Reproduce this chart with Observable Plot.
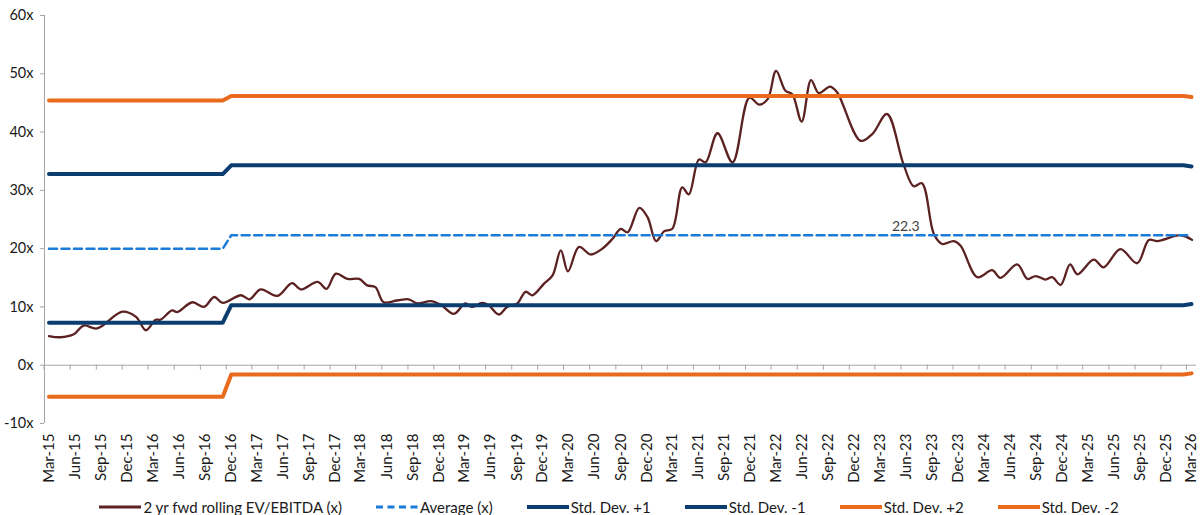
<!DOCTYPE html>
<html>
<head>
<meta charset="utf-8">
<script src="https://cdn.jsdelivr.net/npm/d3@7"></script>
<script src="https://cdn.jsdelivr.net/npm/@observablehq/plot@0.6"></script>
<style>
  body { margin: 0; background: #fff; font-family: Lato, "Open Sans", sans-serif; }
  #legend { display: flex; justify-content: center; align-items: center; height: 20px; margin-top: 5px; padding-left: 18px; font-size: 15px; color: #1a1a1a; }
  .item { display: flex; align-items: center; margin-right: 34px; }
  .item:last-child { margin-right: 0; }
  .item svg { margin-right: 2px; }
</style>
</head>
<body>
<div id="chart"></div>
<div id="legend"></div>
<script>
// ---- Data ----
const lineDates = [
  "2015-03-01","2015-04-10","2015-05-27","2015-07-01","2015-08-17","2015-11-14","2016-01-01","2016-02-05",
  "2016-03-10","2016-03-27","2016-05-07","2016-05-25","2016-07-17","2016-08-27","2016-10-02","2016-11-01",
  "2017-01-04","2017-02-03","2017-03-14","2017-05-12","2017-07-03","2017-08-02","2017-10-01","2017-11-01",
  "2017-12-04","2018-01-14","2018-02-24","2018-03-24","2018-04-22","2018-05-21","2018-07-07","2018-08-17",
  "2018-09-16","2018-11-02","2018-12-07","2019-01-23","2019-03-04","2019-03-27","2019-05-02","2019-05-25",
  "2019-06-30","2019-07-29","2019-09-03","2019-10-02","2019-10-26","2019-12-06","2020-01-05","2020-02-03",
  "2020-02-28","2020-04-07","2020-05-18","2020-06-28","2020-08-03","2020-09-01","2020-09-25","2020-11-05",
  "2020-12-04","2021-01-03","2021-02-01","2021-03-01","2021-04-05","2021-04-28","2021-06-03","2021-06-26",
  "2021-08-07","2021-09-29","2021-11-27","2022-01-01","2022-01-31","2022-03-01","2022-04-03","2022-04-27",
  "2022-05-30","2022-07-02","2022-07-29","2022-09-07","2022-10-02","2022-12-23","2023-02-03","2023-03-26",
  "2023-05-23","2023-06-28","2023-07-27","2023-09-07","2023-10-06","2023-11-16","2023-12-10","2024-02-07",
  "2024-03-30","2024-04-28","2024-06-26","2024-08-01","2024-08-30","2024-10-04","2024-10-27","2024-11-26",
  "2024-12-29","2025-01-24","2025-03-22","2025-04-26","2025-06-24","2025-08-22","2025-10-02","2025-11-01",
  "2026-01-22","2026-03-03"
];
const lineValues = [
  5.0,4.8,5.3,6.8,6.3,9.2,8.3,6.0,
  7.8,7.8,9.4,9.1,10.8,10.0,11.7,10.7,
  12.0,11.3,13.0,11.9,14.1,13.0,14.3,13.1,
  15.7,14.8,14.8,13.7,13.4,10.8,11.1,11.3,
  10.6,11.0,10.4,8.8,10.6,10.0,10.7,10.3,
  8.7,10.0,10.6,12.6,12.0,14.0,15.4,19.7,
  16.1,20.3,19.0,20.0,21.7,23.4,22.8,27.0,
  25.4,21.3,23.0,23.4,30.5,29.3,35.3,34.8,
  39.8,34.8,45.9,44.7,45.7,50.5,47.1,46.5,
  41.8,48.9,46.7,47.8,46.8,38.5,39.7,43.1,
  34.5,30.7,31.2,22.5,20.8,21.3,20.5,15.1,
  16.3,15.0,17.3,14.8,15.3,14.7,15.1,13.8,
  17.3,15.6,18.1,16.8,19.9,17.5,21.5,21.3,
  22.3,21.5
];

const bandDates     = ["2015-03-01","2016-11-01","2016-12-01","2026-02-01","2026-03-01"];
const averageValues = [20.0, 20.0, 22.3, 22.3, 22.3];
const plus1Values   = [32.8, 32.8, 34.3, 34.3, 34.1];
const minus1Values  = [7.3, 7.3, 10.3, 10.3, 10.5];
const plus2Values   = [45.4, 45.4, 46.2, 46.2, 46.0];
const minus2Values  = [-5.4, -5.4, -1.6, -1.6, -1.4];

const avgLabelDate = "2023-05-31";
const avgLabelValue = 22.3;

const xTickLabels = [
  "Mar-15","Jun-15","Sep-15","Dec-15","Mar-16","Jun-16","Sep-16","Dec-16",
  "Mar-17","Jun-17","Sep-17","Dec-17","Mar-18","Jun-18","Sep-18","Dec-18",
  "Mar-19","Jun-19","Sep-19","Dec-19","Mar-20","Jun-20","Sep-20","Dec-20",
  "Mar-21","Jun-21","Sep-21","Dec-21","Mar-22","Jun-22","Sep-22","Dec-22",
  "Mar-23","Jun-23","Sep-23","Dec-23","Mar-24","Jun-24","Sep-24","Dec-24",
  "Mar-25","Jun-25","Sep-25","Dec-25","Mar-26"
];
const yTicks = [-10, 0, 10, 20, 30, 40, 50, 60];

const seriesNames = ["2 yr fwd rolling EV/EBITDA (x)", "Average (x)", "Std. Dev. +1", "Std. Dev. -1", "Std. Dev. +2", "Std. Dev. -2"];

// ---- Styles ----
const BROWN = "#5c2121", BLUE = "#1a7bd9", NAVY = "#0b3d6f", ORANGE = "#ea6a1c", GRAY = "#a6a6a6";

const parse = d3.utcParse("%Y-%m-%d");
const parseTick = d3.utcParse("%b-%y");
const series = lineDates.map((d, i) => ({date: parse(d), value: lineValues[i]}));
const band = bandDates.map((d, i) => ({
  date: parse(d), avg: averageValues[i], p1: plus1Values[i], m1: minus1Values[i], p2: plus2Values[i], m2: minus2Values[i]
}));
const ticks = xTickLabels.map(parseTick);

const chart = Plot.plot({
  width: 1200,
  height: 492,
  marginTop: 15,
  marginBottom: 69,
  marginLeft: 44,
  marginRight: 9,
  style: {fontFamily: "Lato, 'Open Sans', sans-serif", fontSize: "14px", background: "#fff"},
  x: {type: "utc", domain: [ticks[0], ticks[ticks.length - 1]], insetLeft: 4.5},
  y: {domain: [-10, 60]},
  marks: [
    Plot.ruleY([0], {stroke: GRAY, strokeWidth: 1, insetRight: -5}),
    Plot.ruleX(ticks, {x: d => d, y1: 0, y2: -0.85, stroke: GRAY, dx: -5}),
    Plot.ruleX([ticks[0]], {x: d => d, stroke: GRAY, dx: -4.5}),
    Plot.axisY({ticks: yTicks, tickFormat: d => d + "x", tickSize: 4, tickPadding: 7, fontSize: 14.5, stroke: GRAY, fill: "#1a1a1a"}),
    Plot.axisX({ticks, tickFormat: d3.utcFormat("%b-%y"), tickRotate: -90, tickSize: 0, tickPadding: 10, fontSize: 15, fill: "#1a1a1a"}),
    Plot.line(series, {x: "date", y: "value", stroke: BROWN, strokeWidth: 2.3, curve: "catmull-rom"}),
    Plot.line(band, {x: "date", y: "avg", stroke: BLUE, strokeWidth: 2.5, strokeDasharray: "8,4.5"}),
    Plot.line(band, {x: "date", y: "p1", stroke: NAVY, strokeWidth: 4}),
    Plot.line(band, {x: "date", y: "m1", stroke: NAVY, strokeWidth: 4}),
    Plot.line(band, {x: "date", y: "p2", stroke: ORANGE, strokeWidth: 4}),
    Plot.line(band, {x: "date", y: "m2", stroke: ORANGE, strokeWidth: 4}),
    Plot.text([{date: parse(avgLabelDate), value: avgLabelValue}], {x: "date", y: "value", text: d => d.value.toFixed(1), dy: -9, fontSize: 14, fill: "#444"})
  ]
});
document.getElementById("chart").appendChild(chart);

// ---- Legend ----
const swatches = [
  {color: BROWN, width: 3, dash: null},
  {color: BLUE, width: 3, dash: "7,4.5"},
  {color: NAVY, width: 4, dash: null},
  {color: NAVY, width: 4, dash: null},
  {color: ORANGE, width: 4, dash: null},
  {color: ORANGE, width: 4, dash: null}
];
const legend = document.getElementById("legend");
seriesNames.forEach((name, i) => {
  const s = swatches[i];
  const item = document.createElement("div");
  item.className = "item";
  item.innerHTML = `<svg width="42" height="8"><line x1="0" x2="42" y1="4" y2="4" stroke="${s.color}" stroke-width="${s.width}" ${s.dash ? `stroke-dasharray="${s.dash}"` : ""}/></svg><span>${name}</span>`;
  legend.appendChild(item);
});
</script>
</body>
</html>
